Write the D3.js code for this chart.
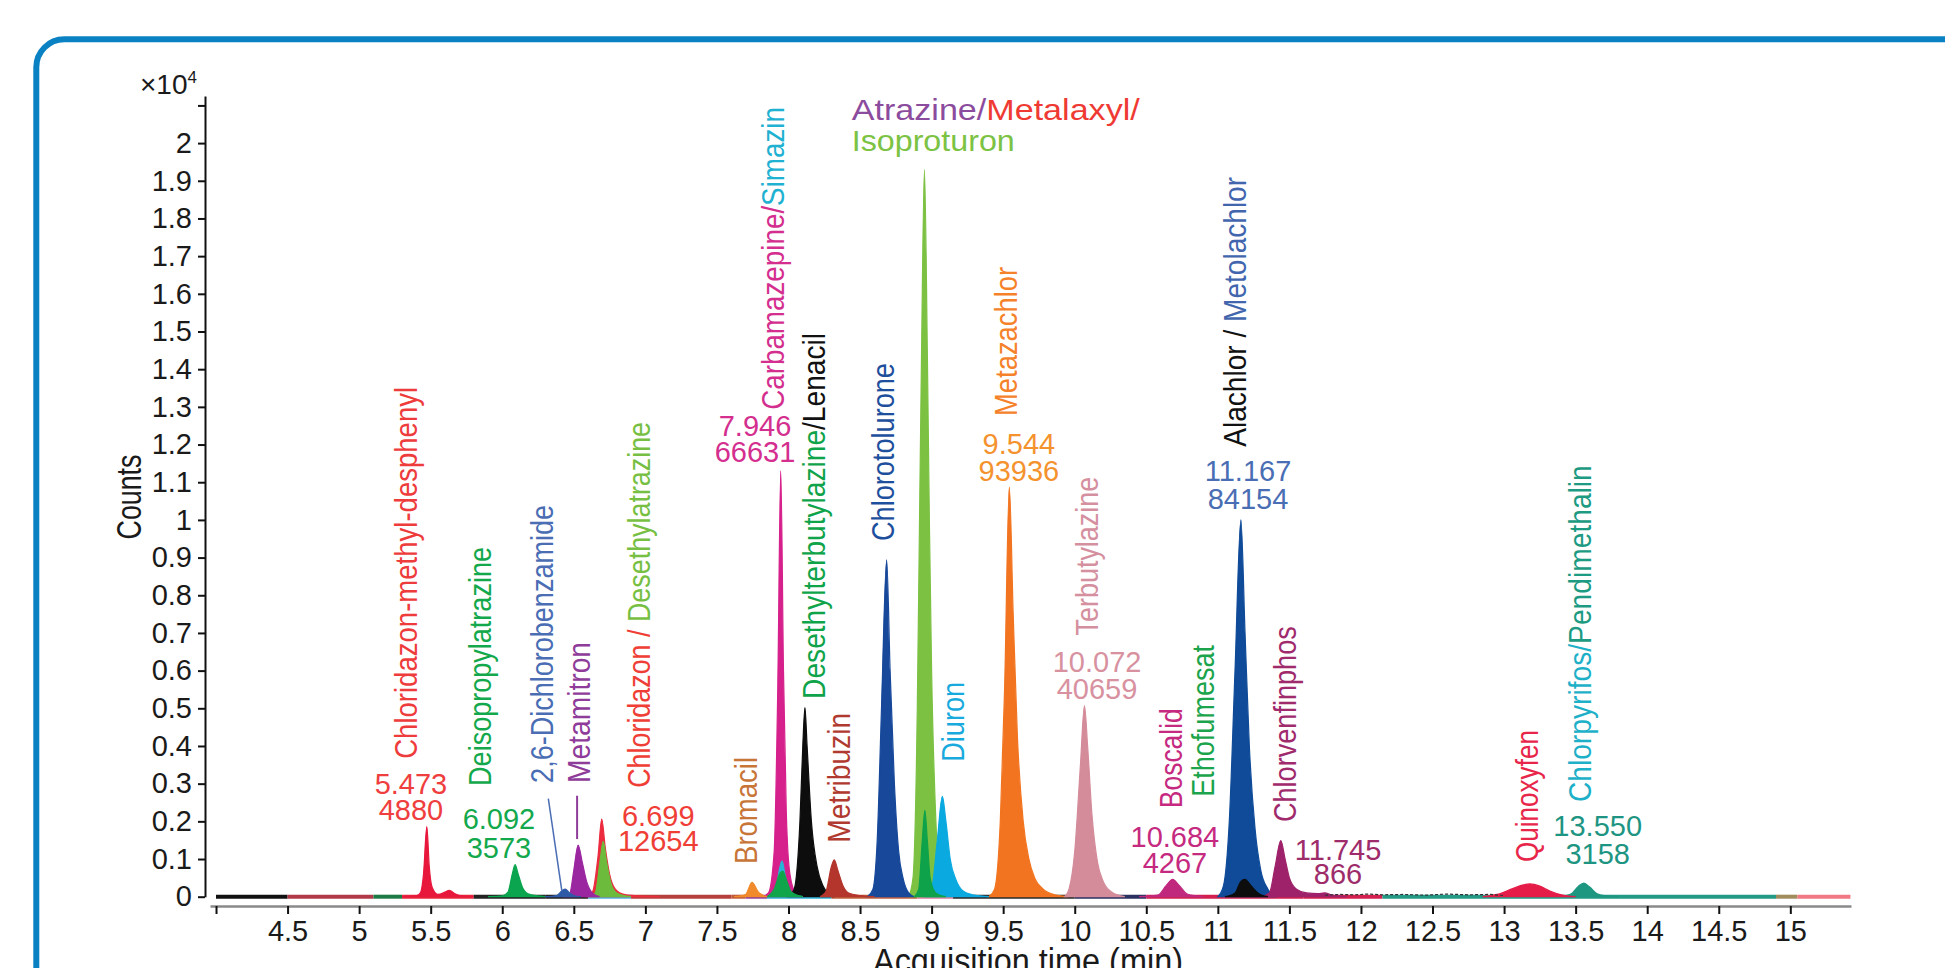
<!DOCTYPE html>
<html><head><meta charset="utf-8">
<script src="https://cdn.jsdelivr.net/npm/d3@7"></script>
<style>
html,body{margin:0;padding:0;background:#fff;overflow:hidden;}
svg{display:block;}
text{white-space:pre;}
</style></head>
<body>
<svg id="chart" width="1945" height="968"></svg>
<script>
// ================= DATA =================
const xTickValues = [4,4.5,5,5.5,6,6.5,7,7.5,8,8.5,9,9.5,10,10.5,11,11.5,12,12.5,13,13.5,14,14.5,15];
const xTickLabels = ["","4.5","5","5.5","6","6.5","7","7.5","8","8.5","9","9.5","10","10.5","11","11.5","12","12.5","13","13.5","14","14.5","15"];
const yTickValues = [0,0.1,0.2,0.3,0.4,0.5,0.6,0.7,0.8,0.9,1,1.1,1.2,1.3,1.4,1.5,1.6,1.7,1.8,1.9,2,2.1];
const yTickLabels = ["0","0.1","0.2","0.3","0.4","0.5","0.6","0.7","0.8","0.9","1","1.1","1.2","1.3","1.4","1.5","1.6","1.7","1.8","1.9","2",""];

// chromatogram traces: [acquisition time (min), counts (x10^4)]
const chloridazonMethylDesphenyl = [[5.3,0],[5.40,0.002],[5.43,0.012],[5.45,0.06],[5.473,0.186],[5.49,0.08],[5.51,0.025],[5.55,0.006],[5.6,0.012],[5.63,0.017],[5.67,0.008],[5.72,0.002],[5.8,0]];
const deisopropylatrazine = [[5.9,0],[6.0,0.002],[6.04,0.012],[6.07,0.06],[6.09,0.085],[6.11,0.062],[6.14,0.026],[6.18,0.008],[6.25,0.002],[6.3,0]];
const dichlorobenzamide = [[6.3,0],[6.38,0.003],[6.42,0.017],[6.44,0.02],[6.47,0.01],[6.52,0.001],[6.55,0]];
const metamitron = [[6.42,0],[6.47,0.006],[6.5,0.07],[6.53,0.137],[6.56,0.09],[6.59,0.04],[6.63,0.01],[6.68,0]];
const chloridazon = [[6.58,0],[6.63,0.012],[6.67,0.11],[6.695,0.206],[6.72,0.13],[6.75,0.06],[6.79,0.02],[6.85,0.006],[6.95,0.002],[7.1,0]];
const desethylatrazine = [[6.6,0],[6.65,0.01],[6.685,0.1],[6.705,0.147],[6.73,0.09],[6.76,0.035],[6.8,0.01],[6.9,0]];
const bromacil = [[7.62,0],[7.7,0.006],[7.745,0.038],[7.79,0.012],[7.85,0]];
const carbamazepine = [[7.82,0],[7.86,0.01],[7.9,0.12],[7.925,0.55],[7.946,1.13],[7.965,0.6],[7.985,0.22],[8.01,0.06],[8.05,0.01],[8.1,0]];
const desethylterbutylazine = [[7.85,0],[7.9,0.02],[7.94,0.062],[7.96,0.068],[7.99,0.04],[8.02,0.012],[8.1,0]];
const simazin = [[7.87,0],[7.91,0.015],[7.938,0.075],[7.955,0.095],[7.975,0.06],[8.0,0.02],[8.05,0.004],[8.1,0]];
const lenacil = [[8.0,0],[8.04,0.02],[8.08,0.2],[8.1,0.4],[8.115,0.502],[8.13,0.4],[8.16,0.2],[8.2,0.08],[8.24,0.03],[8.28,0.008],[8.32,0]];
const metribuzin = [[8.22,0],[8.26,0.012],[8.3,0.08],[8.32,0.098],[8.345,0.07],[8.38,0.03],[8.42,0.01],[8.5,0.003],[8.6,0]];
const chlorotolurone = [[8.55,0],[8.59,0.02],[8.62,0.15],[8.65,0.5],[8.686,0.894],[8.71,0.6],[8.74,0.3],[8.77,0.12],[8.8,0.05],[8.84,0.01],[8.88,0]];
const isoproturon = [[8.84,0],[8.87,0.05],[8.9,0.5],[8.915,0.98],[8.93,1.45],[8.95,1.93],[8.97,1.45],[8.985,0.98],[9.0,0.6],[9.03,0.2],[9.06,0.04],[9.1,0.005],[9.15,0]];
const atrazine = [[8.88,0],[8.91,0.02],[8.935,0.15],[8.953,0.229],[8.97,0.15],[8.99,0.05],[9.03,0.01],[9.1,0]];
const diuron = [[8.96,0],[9.0,0.02],[9.04,0.15],[9.075,0.266],[9.1,0.2],[9.13,0.1],[9.17,0.045],[9.22,0.015],[9.3,0.004],[9.4,0]];
const metazachlor = [[9.4,0],[9.44,0.02],[9.48,0.2],[9.51,0.55],[9.543,1.087],[9.57,0.75],[9.6,0.42],[9.64,0.2],[9.68,0.1],[9.72,0.05],[9.78,0.02],[9.85,0.006],[9.95,0]];
const terbutylazine = [[9.93,0],[9.96,0.02],[10.0,0.12],[10.04,0.35],[10.068,0.507],[10.09,0.4],[10.12,0.22],[10.16,0.09],[10.2,0.04],[10.26,0.012],[10.35,0]];
const boscalid = [[10.45,0],[10.58,0.004],[10.64,0.03],[10.684,0.046],[10.73,0.03],[10.79,0.006],[10.9,0]];
const metolachlor = [[11.0,0],[11.04,0.03],[11.08,0.2],[11.12,0.6],[11.161,1.0],[11.19,0.7],[11.22,0.4],[11.26,0.18],[11.3,0.07],[11.35,0.02],[11.4,0]];
const alachlor = [[11.05,0],[11.12,0.01],[11.16,0.04],[11.19,0.046],[11.23,0.03],[11.28,0.01],[11.35,0]];
const chlorfenvinphos = [[11.3,0],[11.36,0.01],[11.4,0.08],[11.44,0.149],[11.47,0.1],[11.5,0.05],[11.55,0.02],[11.62,0.01],[11.7,0.008],[11.745,0.01],[11.8,0.004],[11.9,0]];
const quinoxyfen = [[12.85,0],[12.95,0.006],[13.05,0.02],[13.12,0.03],[13.18,0.034],[13.25,0.028],[13.32,0.015],[13.4,0.005],[13.5,0]];
const chlorpyrifos = [[13.38,0],[13.47,0.008],[13.52,0.028],[13.557,0.036],[13.6,0.025],[13.65,0.008],[13.72,0.002],[13.8,0]];
const backgroundNoise = [[11.75,0.004],[11.85,0.006],[11.95,0.005],[12.05,0.007],[12.15,0.005],[12.3,0.006],[12.45,0.004],[12.6,0.007],[12.75,0.005],[12.9,0.006],[13.0,0.003]];

// baseline windows of the individual traces (min)
const baselineStarts = [4.0,4.5,5.1,5.3,5.8,6.3,6.6,6.9,7.6,7.7,7.85,8.3,8.9,9.15,10.0,10.5,11.6,12.15,14.9,15.05];
const baselineEnds   = [4.5,5.1,5.3,5.8,6.3,6.6,6.9,7.6,7.7,7.85,8.3,8.9,9.15,10.0,10.5,11.6,12.15,14.9,15.05,15.42];

// peak annotations: retention time / area
const rtLabels   = ["5.473","6.092","6.699","7.946","9.544","10.072","10.684","11.167","11.745","13.550"];
const areaLabels = ["4880","3573","12654","66631","93936","40659","4267","84154","866","3158"];

// ================= STYLE / LAYOUT =================
const baselineColors = ["#111","#b23a48","#1d7a45","#e8283f","#222","#222","#4fb3e6","#b8403c","#c05a3a","#8e3b9a","#2fb3d8","#c0603e","#e27aa0","#2a2a2a","#2b3160","#d3204f","#d3204f","#229a86","#a08c5c","#f27884"];

const traces = [
  {d:chloridazonMethylDesphenyl, c:"#e8173c"},
  {d:deisopropylatrazine, c:"#0aa54e"},
  {d:dichlorobenzamide, c:"#2e5aa8"},
  {d:metamitron, c:"#9b27a0"},
  {d:chloridazon, c:"#ec2b3f"},
  {d:desethylatrazine, c:"#6dbb3d"},
  {d:bromacil, c:"#f08a2a"},
  {d:carbamazepine, c:"#d6208b"},
  {d:desethylterbutylazine, c:"#10a54b"},
  {d:simazin, c:"#27b5d8"},
  {d:lenacil, c:"#0d0d0d"},
  {d:metribuzin, c:"#b3352b"},
  {d:chlorotolurone, c:"#17489a"},
  {d:isoproturon, c:"#7cc142"},
  {d:atrazine, c:"#0ea24a"},
  {d:diuron, c:"#0aa9e0"},
  {d:metazachlor, c:"#f27420"},
  {d:terbutylazine, c:"#d48b9a"},
  {d:boscalid, c:"#c0287e"},
  {d:metolachlor, c:"#0f4b98"},
  {d:alachlor, c:"#0d0d0d"},
  {d:chlorfenvinphos, c:"#9e226a"},
  {d:quinoxyfen, c:"#e51c48"},
  {d:chlorpyrifos, c:"#1d9780"}
];

const NARROW = "'Liberation Sans Narrow','Arial Narrow','Liberation Sans',Arial,sans-serif";
const SANS = "'Liberation Sans',Arial,sans-serif";

const svg = d3.select("#chart");
const x = d3.scaleLinear().domain([3.958, 15.424]).range([210, 1851]);
const y = d3.scaleLinear().domain([0, 2.125]).range([896.7, 96]);

// frame
svg.append("rect").attr("x",36.3).attr("y",39.3).attr("width",2000).attr("height",1000)
  .attr("rx",28).attr("fill","none").attr("stroke","#0a81c3").attr("stroke-width",6);

// baseline segments
svg.append("g").selectAll("line").data(baselineStarts).join("line")
  .attr("x1",(d)=>x(d)).attr("x2",(d,i)=>x(baselineEnds[i]))
  .attr("y1",y(0)).attr("y2",y(0))
  .attr("stroke",(d,i)=>baselineColors[i]).attr("stroke-width",4);

// peaks (largest first so small ones stay visible)
const area = d3.area().x(d=>x(d[0])).y0(y(0)).y1(d=>y(d[1])).curve(d3.curveMonotoneX);
const sorted = traces.slice().sort((a,b)=>d3.max(b.d,p=>p[1]) - d3.max(a.d,p=>p[1]));
svg.append("g").selectAll("path").data(sorted).join("path")
  .attr("d",t=>area(t.d)).attr("fill",t=>t.c).attr("stroke",t=>t.c).attr("stroke-width",1.2);

svg.append("path").datum(backgroundNoise)
  .attr("d", d3.line().x(d=>x(d[0])).y(d=>y(d[1])))
  .attr("fill","none").attr("stroke","#333").attr("stroke-width",1.2).attr("stroke-dasharray","3,2");

// axes
const xAxis = d3.axisBottom(x).tickValues(xTickValues)
  .tickFormat((d,i)=>xTickLabels[i]).tickSize(8).tickSizeOuter(0).tickPadding(6);
const gx = svg.append("g").attr("transform","translate(0,906)").call(xAxis);
gx.select(".domain").attr("stroke","#8a8a8a").attr("stroke-width",2.5);
gx.selectAll(".tick line").attr("stroke","#111").attr("stroke-width",2);
gx.selectAll("text").attr("font-family",SANS).attr("font-size",29).attr("fill","#1a1a1a");

const yAxis = d3.axisLeft(y).tickValues(yTickValues)
  .tickFormat((d,i)=>yTickLabels[i]).tickSize(7).tickSizeOuter(0).tickPadding(6);
const gy = svg.append("g").attr("transform","translate(205,0)").call(yAxis);
gy.select(".domain").attr("stroke","#111").attr("stroke-width",2);
gy.selectAll(".tick line").attr("stroke","#111").attr("stroke-width",2);
gy.selectAll("text").attr("font-family",SANS).attr("font-size",29).attr("fill","#1a1a1a");

// ×10^4
const mult = svg.append("text").attr("x",140).attr("y",94).attr("font-family",SANS).attr("font-size",28).attr("fill","#1a1a1a");
mult.append("tspan").text("×10");
mult.append("tspan").attr("font-size",17).attr("dy",-11).text("4");

// axis titles
function fitText(sel, target){ const n = sel.node().getComputedTextLength(); return target / n; }
const counts = svg.append("text").attr("font-family",NARROW).attr("font-size",35)
  .attr("text-anchor","middle").attr("y",12).attr("fill","#1a1a1a").text("Counts");
counts.attr("transform",`translate(129,497) rotate(-90) scale(${fitText(counts,85)},1)`);

const xt = svg.append("text").attr("font-family",NARROW).attr("font-size",35)
  .attr("text-anchor","middle").attr("fill","#1a1a1a").text("Acquisition time (min)");
xt.attr("transform",`translate(1028,973) scale(${fitText(xt,310)},1)`);

// compound labels (rotated)
const rotLabels = [
  {p:[["Chloridazon-methyl-desphenyl","#ee3b3b"]], t:5.344, v:0.366, len:372},
  {p:[["Deisopropylatrazine","#13a84c"]], t:5.858, v:0.294, len:239},
  {p:[["2,6-Dichlorobenzamide","#4a6db4"]], t:6.295, v:0.302, len:278},
  {p:[["Metamitron","#8e3b9a"]], t:6.552, v:0.302, len:141},
  {p:[["Chloridazon / ","#ef3e36"],["Desethylatrazine","#77bf43"]], t:6.972, v:0.289, len:366},
  {p:[["Carbamazepine/","#d42e8e"],["Simazin","#1fb1d1"]], t:7.903, v:1.292, len:303},
  {p:[["Desethylterbutylazine","#0fa34a"],["/Lenacil","#111"]], t:8.192, v:0.525, len:366},
  {p:[["Metribuzin","#b03a30"]], t:8.364, v:0.143, len:130},
  {p:[["Bromacil","#c87538"]], t:7.715, v:0.087, len:107},
  {p:[["Chlorotolurone","#1e4f9c"]], t:8.676, v:0.944, len:178},
  {p:[["Diuron","#18aadd"]], t:9.160, v:0.358, len:80},
  {p:[["Metazachlor","#f5822a"]], t:9.534, v:1.276, len:149},
  {p:[["Terbutylazine","#d5909f"]], t:10.102, v:0.693, len:159},
  {p:[["Boscalid","#c52a80"]], t:10.687, v:0.235, len:100},
  {p:[["Ethofumesat","#1ba44b"]], t:10.907, v:0.265, len:152},
  {p:[["Alachlor / ","#111"],["Metolachlor","#4266ae"]], t:11.131, v:1.194, len:270},
  {p:[["Chlorvenfinphos","#9f2a6c"]], t:11.483, v:0.198, len:196},
  {p:[["Quinoxyfen","#e8264a"]], t:13.174, v:0.092, len:132},
  {p:[["Chlorpyrifos/","#1eb0c8"],["Pendimethalin","#1c9a82"]], t:13.543, v:0.251, len:337}
];
rotLabels.forEach(L=>{
  const tx = svg.append("text").attr("font-family",NARROW).attr("font-size",31).attr("y",9);
  L.p.forEach(p=>tx.append("tspan").attr("fill",p[1]).text(p[0]));
  tx.attr("transform",`translate(${x(L.t)},${y(L.v)}) rotate(-90) scale(${fitText(tx,L.len)},1)`);
});

// horizontal label
const hLabels = [
  {p:[["Atrazine/","#8c4c9e"],["Metalaxyl/","#ef3a33"]], t:8.442, v:2.062, len:288},
  {p:[["Isoproturon","#7cc243"]], t:8.442, v:1.978, len:163}
];
hLabels.forEach(L=>{
  const tx = svg.append("text").attr("font-family",NARROW).attr("font-size",30);
  L.p.forEach(p=>tx.append("tspan").attr("fill",p[1]).text(p[0]));
  tx.attr("transform",`translate(${x(L.t)},${y(L.v)}) scale(${fitText(tx,L.len)},1)`);
});

// retention-time / area annotations
const numPos = [
  {t:5.362, v1:0.273, v2:0.204, c:"#ef3e3e"},
  {t:5.977, v1:0.180, v2:0.103, c:"#13a84c"},
  {t:7.090, v1:0.188, v2:0.121, c:"#ef3e36"},
  {t:7.766, v1:1.223, v2:1.154, c:"#d42e8e"},
  {t:9.610, v1:1.175, v2:1.102, c:"#f4922e"},
  {t:10.156, v1:0.597, v2:0.525, c:"#d8919f"},
  {t:10.700, v1:0.131, v2:0.063, c:"#c52a80"},
  {t:11.211, v1:1.102, v2:1.029, c:"#4a6eb4"},
  {t:11.840, v1:0.097, v2:0.034, c:"#9e2c6a"},
  {t:13.654, v1:0.160, v2:0.087, c:"#1e9582"}
];
numPos.forEach((P,i)=>{
  svg.append("text").attr("x",x(P.t)).attr("y",y(P.v1)).attr("text-anchor","middle")
    .attr("font-family",SANS).attr("font-size",29).attr("fill",P.c).text(rtLabels[i]);
  svg.append("text").attr("x",x(P.t)).attr("y",y(P.v2)).attr("text-anchor","middle")
    .attr("font-family",SANS).attr("font-size",29).attr("fill",P.c).text(areaLabels[i]);
});

// leader lines
svg.append("line").attr("x1",x(6.322)).attr("y1",y(0.260)).attr("x2",x(6.416)).attr("y2",y(0.016))
  .attr("stroke","#4a6db4").attr("stroke-width",1.5);
svg.append("line").attr("x1",x(6.523)).attr("y1",y(0.268)).attr("x2",x(6.523)).attr("y2",y(0.153))
  .attr("stroke","#8e3b9a").attr("stroke-width",2);
</script>
</body></html>
